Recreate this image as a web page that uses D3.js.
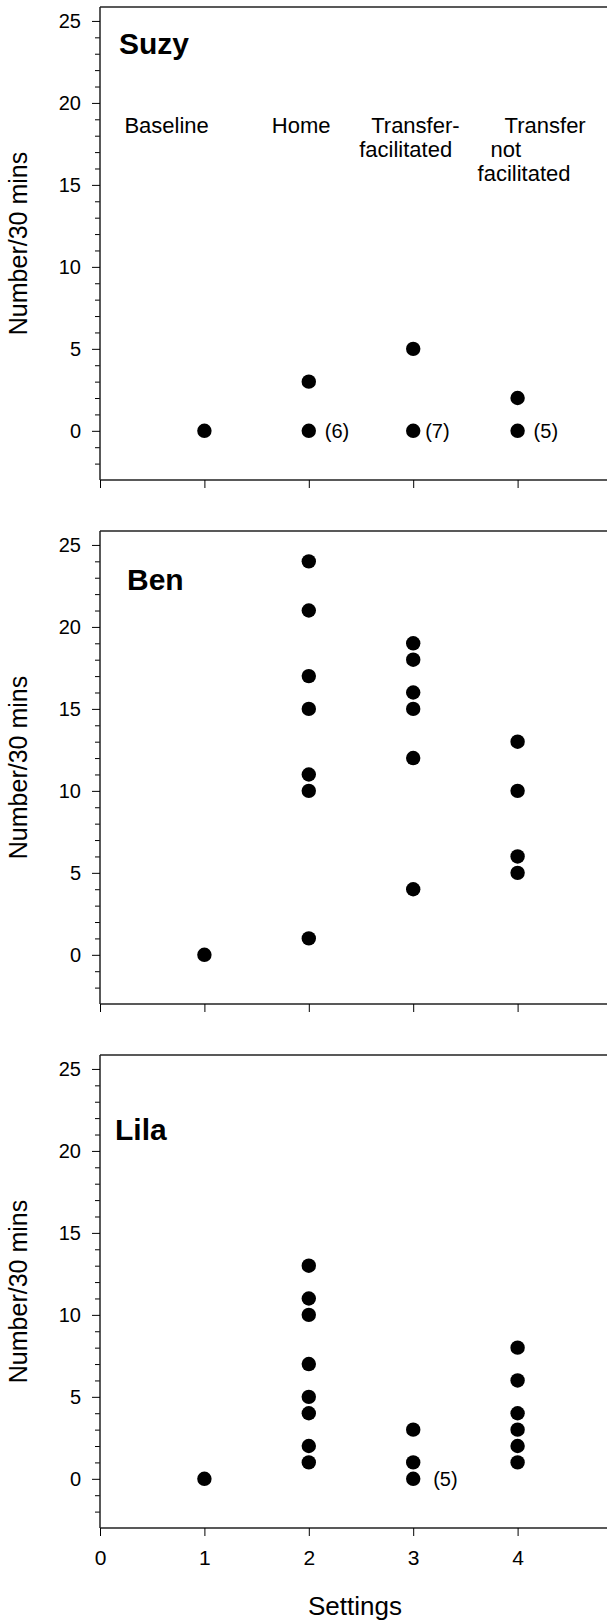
<!DOCTYPE html>
<html>
<head>
<meta charset="utf-8">
<script src="https://cdn.jsdelivr.net/npm/d3@7"></script>
<style>
  body { margin: 0; background: #fff; }
  svg { display: block; font-family: "Liberation Sans", Arial, sans-serif; }
</style>
</head>
<body>
<svg width="607" height="1624"></svg>
<script>
// data
const participants = ["Suzy", "Ben", "Lila"];
const settings = [1, 2, 3, 4];
const xTickValues = [0, 1, 2, 3, 4];
const yTickValues = [0, 5, 10, 15, 20, 25];
const settingLabels = [["Baseline"], ["Home"], ["Transfer-", "facilitated"], ["Transfer", "not", "facilitated"]];

// one array per setting (1..4)
const suzyValues = [[0], [3, 0], [5, 0], [2, 0]];
const benValues = [[0], [24, 21, 17, 15, 11, 10, 1], [19, 18, 16, 15, 12, 4], [13, 10, 6, 5]];
const lilaValues = [[0], [13, 11, 10, 7, 5, 4, 2, 1], [3, 1, 0], [8, 6, 4, 3, 2, 1]];

// repeated zero counts  [setting, value, text]
const suzyNotes = [[2, 0, "(6)"], [3, 0, "(7)"], [4, 0, "(5)"]];
const benNotes = [];
const lilaNotes = [[3, 0, "(5)"]];

const allValues = [suzyValues, benValues, lilaValues];
const allNotes = [suzyNotes, benNotes, lilaNotes];

const svg = d3.select("svg");
const panelTops = [7, 531, 1055];
const panelH = 473;
const left = 100;

const x = d3.scaleLinear().domain([0, 5]).range([left, 622]);

// panel name offsets (px from top-left of plot)
const nameOffsets = [[19, 47], [27, 59], [15, 85]];

participants.forEach((name, p) => {
  const top = panelTops[p];
  const y = d3.scaleLinear().domain([-3, 25.85]).range([top + panelH, top]);
  const g = svg.append("g");

  // frame top line
  g.append("line")
    .attr("x1", left).attr("x2", 622)
    .attr("y1", top).attr("y2", top)
    .attr("stroke", "#222").attr("stroke-width", 1.5);

  // y axis with minor ticks
  const yMinor = d3.range(-2, 26).filter(v => v % 5 !== 0);
  g.append("g").attr("transform", `translate(${left},0)`)
    .call(d3.axisLeft(y).tickValues(yMinor).tickSize(5).tickFormat(""))
    .call(a => a.select(".domain").remove());
  g.append("g").attr("transform", `translate(${left},0)`)
    .call(d3.axisLeft(y).tickValues(yTickValues).tickSize(8).tickPadding(11))
    .call(a => a.select(".domain").attr("stroke", "#222").attr("stroke-width", 1.5)
      .attr("d", `M0,${top}V${top + panelH}`))
    .call(a => a.selectAll("text").attr("font-size", 20).attr("fill", "#000")
      .attr("font-family", "Liberation Sans, Arial, sans-serif"));

  // x axis
  const xa = g.append("g").attr("transform", `translate(0,${top + panelH})`)
    .call(d3.axisBottom(x).tickValues(xTickValues).tickSize(8).tickPadding(14).tickFormat(d3.format("d")))
    .call(a => a.select(".domain").attr("stroke", "#222").attr("stroke-width", 1.5)
      .attr("d", `M${left},0H622`))
    .call(a => a.selectAll("text").attr("font-size", 21).attr("fill", "#000")
      .attr("font-family", "Liberation Sans, Arial, sans-serif"));
  if (p < 2) xa.selectAll("text").remove();

  // y title
  g.append("text")
    .attr("transform", `translate(27,${top + panelH / 2}) rotate(-90)`)
    .attr("text-anchor", "middle")
    .attr("font-size", 25)
    .text("Number/30 mins");

  // participant name
  g.append("text")
    .attr("x", left + nameOffsets[p][0]).attr("y", top + nameOffsets[p][1])
    .attr("font-size", 30).attr("font-weight", "bold")
    .text(name);

  // points
  const pts = [];
  allValues[p].forEach((vals, i) => vals.forEach(v => pts.push({ s: settings[i], v })));
  g.selectAll("circle.pt").data(pts).enter().append("circle")
    .attr("class", "pt")
    .attr("cx", d => x(d.s)).attr("cy", d => y(d.v))
    .attr("r", 7.2).attr("fill", "#000");

  // count notes
  g.selectAll("text.note").data(allNotes[p]).enter().append("text")
    .attr("class", "note")
    .attr("x", d => x(d[0]) + (d[0] === 3 ? (p === 0 ? 12 : 20) : 16))
    .attr("y", d => y(d[1]))
    .attr("dy", "0.36em")
    .attr("font-size", 20)
    .text(d => d[2]);

  // setting labels, first panel only
  if (p === 0) {
    const labelOffsets = [[-80], [-37], [-42, -54], [-13, -27, -40]];
    settingLabels.forEach((lines, i) => {
      lines.forEach((t, j) => {
        g.append("text")
          .attr("x", x(settings[i]) + labelOffsets[i][j])
          .attr("y", 133 + j * 24)
          .attr("font-size", 22)
          .text(t);
      });
    });
  }
});

// x title
svg.append("text")
  .attr("x", x(2.5) - 53).attr("y", 1615)
  .attr("font-size", 26)
  .text("Settings");
</script>
</body>
</html>
